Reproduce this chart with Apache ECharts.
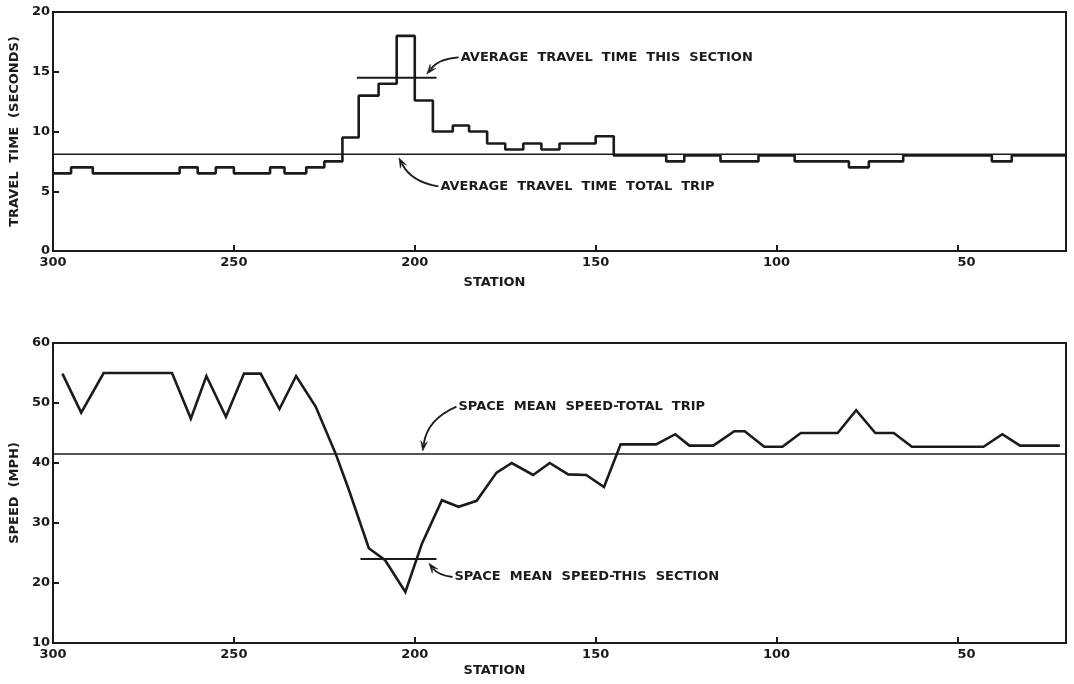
<!DOCTYPE html>
<html><head><meta charset="utf-8">
<script src="https://cdn.jsdelivr.net/npm/echarts@6/dist/echarts.min.js"></script>
<style>html,body{margin:0;background:#fff}#c{width:1074px;height:684px}</style>
</head><body><div id="c"></div>
<script>
// ---- data ----
const stationTicks = [300, 250, 200, 150, 100, 50];
// Top panel: travel time step chart (value of each section starting at station)
const stepStations = [300, 295, 289, 265, 260, 255, 250, 240, 236, 230, 225, 220, 215.5, 210, 205, 200, 195, 189.5, 185, 180, 175, 170, 165, 160, 150, 145, 130.5, 125.5, 115.5, 105, 95, 80, 74.5, 65, 40.5, 35, 20];
const travelTimes  = [6.5, 7.0, 6.5, 7.0, 6.5, 7.0, 6.5, 7.0, 6.5, 7.0, 7.5, 9.5, 13.0, 14.0, 18.0, 12.6, 10.0, 10.5, 10.0, 9.0, 8.5, 9.0, 8.5, 9.0, 9.6, 8.0, 7.5, 8.0, 7.5, 8.0, 7.5, 7.0, 7.5, 8.0, 7.5, 8.0, 8.0];
const avgTimeTotalTrip = 8.1;
const avgTimeSection = {from: 216, to: 194, value: 14.5};

// Bottom panel: speed profile
const speedStations = [297.4, 292.2, 286.0, 267.1, 261.9, 257.6, 252.2, 247.2, 242.6, 237.4, 232.8, 227.4, 221.9, 218.2, 212.7, 208.2, 202.6, 198.0, 192.5, 187.9, 182.9, 177.4, 173.2, 167.3, 162.7, 157.6, 152.6, 147.7, 143.1, 133.3, 128.0, 124.1, 117.5, 111.7, 108.8, 103.4, 98.4, 93.3, 83.1, 78.0, 72.7, 67.6, 62.6, 42.8, 37.6, 32.7, 21.7];
const speeds        = [54.9, 48.4, 55.0, 55.0, 47.4, 54.5, 47.7, 54.9, 54.9, 49.0, 54.5, 49.4, 41.6, 35.5, 25.8, 23.8, 18.5, 26.6, 33.8, 32.7, 33.7, 38.4, 40.0, 38.0, 40.0, 38.1, 38.0, 36.0, 43.1, 43.1, 44.8, 42.9, 42.9, 45.3, 45.3, 42.7, 42.7, 45.0, 45.0, 48.8, 45.0, 45.0, 42.7, 42.7, 44.8, 42.9, 42.9];
const speedTotalTrip = 41.5;
const speedSection = {from: 215, to: 194, value: 24};

// Annotations: [label, textStation, textValue, arrowTipStation, arrowTipValue, curveness]
const topNotes = [
  ['AVERAGE  TRAVEL  TIME  THIS  SECTION', 187.6, 16.2, 196.7, 14.8, -0.22],
  ['AVERAGE  TRAVEL  TIME  TOTAL  TRIP', 193.2, 5.4, 204.4, 7.8, 0.25]
];
const bottomNotes = [
  ['SPACE  MEAN  SPEED-TOTAL  TRIP', 188.2, 49.4, 197.8, 42.0, -0.28],
  ['SPACE  MEAN  SPEED-THIS  SECTION', 189.3, 21.0, 196.1, 23.3, 0.2]
];

// ---- chart ----
const INK = '#1b1b1b';
const FONT = 'DejaVu Sans';
const chart = echarts.init(document.getElementById('c'), null, {renderer: 'canvas'});

function xAxis(gi, gap) {
  return {
    type: 'value', gridIndex: gi, min: 20, max: 300, inverse: true,
    name: 'STATION', nameLocation: 'middle', nameGap: gap,
    nameTextStyle: {color: INK, fontFamily: FONT, fontWeight: 'bold', fontSize: 13, padding: [0, 130, 0, 0]},
    axisLine: {show: true, lineStyle: {color: INK, width: 2}},
    axisTick: {show: true, inside: true, length: 6, customValues: stationTicks, lineStyle: {color: INK, width: 2}},
    axisLabel: {show: true, customValues: stationTicks, color: INK, fontFamily: FONT, fontWeight: 'bold', fontSize: 13, margin: 5, alignMaxLabel: 'left'},
    splitLine: {show: false}
  };
}
function yAxis(gi, min, max, interval, name) {
  return {
    type: 'value', gridIndex: gi, min, max, interval,
    name, nameLocation: 'middle', nameGap: 27, nameRotate: 90,
    nameTextStyle: {color: INK, fontFamily: FONT, fontWeight: 'bold', fontSize: 13},
    axisLine: {show: true, lineStyle: {color: INK, width: 2}},
    axisTick: {show: true, inside: true, length: 6, lineStyle: {color: INK, width: 2}},
    axisLabel: {color: INK, fontFamily: FONT, fontWeight: 'bold', fontSize: 13, margin: 3},
    splitLine: {show: false}
  };
}
function noteSeries(notes, gi) {
  return [{
    type: 'scatter', xAxisIndex: gi, yAxisIndex: gi, symbolSize: 0, silent: true,
    itemStyle: {opacity: 1},
    data: notes.map(n => ({name: n[0], value: [n[1], n[2]]})),
    label: {show: true, position: 'right', distance: 1, formatter: '{b}', color: INK, fontFamily: FONT, fontWeight: 'bold', fontSize: 13}
  }];
}

const stepData = stepStations.map((s, i) => [s, travelTimes[i]]);
const speedData = speedStations.map((s, i) => [s, speeds[i]]);

chart.setOption({
  backgroundColor: '#fff',
  animation: false,
  grid: [
    {left: 50, right: 8, top: 12, height: 239, show: true, borderColor: INK, borderWidth: 2, containLabel: false},
    {left: 50, right: 8, top: 343, height: 300, show: true, borderColor: INK, borderWidth: 2, containLabel: false}
  ],
  xAxis: [xAxis(0, 25), xAxis(1, 21)],
  yAxis: [yAxis(0, 0, 20, 5, 'TRAVEL  TIME  (SECONDS)'), yAxis(1, 10, 60, 10, 'SPEED  (MPH)')],
  series: [
    {type: 'line', xAxisIndex: 0, yAxisIndex: 0, step: 'end', data: stepData, symbol: 'none',
     lineStyle: {color: INK, width: 2.6}},
    {type: 'line', xAxisIndex: 0, yAxisIndex: 0, data: [[300, avgTimeTotalTrip], [20, avgTimeTotalTrip]], symbol: 'none',
     lineStyle: {color: INK, width: 1.6}},
    {type: 'line', xAxisIndex: 0, yAxisIndex: 0, data: [[avgTimeSection.from, avgTimeSection.value], [avgTimeSection.to, avgTimeSection.value]], symbol: 'none',
     lineStyle: {color: INK, width: 1.8}},
    {type: 'line', xAxisIndex: 1, yAxisIndex: 1, data: speedData, symbol: 'none',
     lineStyle: {color: INK, width: 2.6, join: 'miter'}},
    {type: 'line', xAxisIndex: 1, yAxisIndex: 1, data: [[300, speedTotalTrip], [20, speedTotalTrip]], symbol: 'none',
     lineStyle: {color: INK, width: 1.6}},
    {type: 'line', xAxisIndex: 1, yAxisIndex: 1, data: [[speedSection.from, speedSection.value], [speedSection.to, speedSection.value]], symbol: 'none',
     lineStyle: {color: INK, width: 1.8}},
    ...noteSeries(topNotes, 0),
    ...noteSeries(bottomNotes, 1)
  ]
});

// Curved leader arrows, positioned from data coordinates
function arrows(notes, gi) {
  const els = [];
  notes.forEach(n => {
    const p1 = chart.convertToPixel({gridIndex: gi}, [n[1], n[2]]);
    const p2 = chart.convertToPixel({gridIndex: gi}, [n[3], n[4]]);
    p1[0] -= 1;
    const c = n[5];
    const cp = [(p1[0] + p2[0]) / 2 + (p2[1] - p1[1]) * c, (p1[1] + p2[1]) / 2 - (p2[0] - p1[0]) * c];
    let dx = p2[0] - cp[0], dy = p2[1] - cp[1];
    const L = Math.hypot(dx, dy); dx /= L; dy /= L;
    const len = 10, half = 3.5;
    const base = [p2[0] - dx * len, p2[1] - dy * len];
    els.push({type: 'bezierCurve', silent: true,
      shape: {x1: p1[0], y1: p1[1], x2: base[0] + dx * 3, y2: base[1] + dy * 3, cpx1: cp[0], cpy1: cp[1]},
      style: {stroke: INK, lineWidth: 1.8, fill: null}});
    els.push({type: 'polygon', silent: true,
      shape: {points: [p2, [base[0] - dy * half, base[1] + dx * half], [p2[0] - dx * len * 0.6, p2[1] - dy * len * 0.6], [base[0] + dy * half, base[1] - dx * half]]},
      style: {fill: INK, stroke: INK, lineWidth: 0.5}});
  });
  return els;
}
chart.setOption({graphic: {elements: arrows(topNotes, 0).concat(arrows(bottomNotes, 1))}});
</script></body></html>
